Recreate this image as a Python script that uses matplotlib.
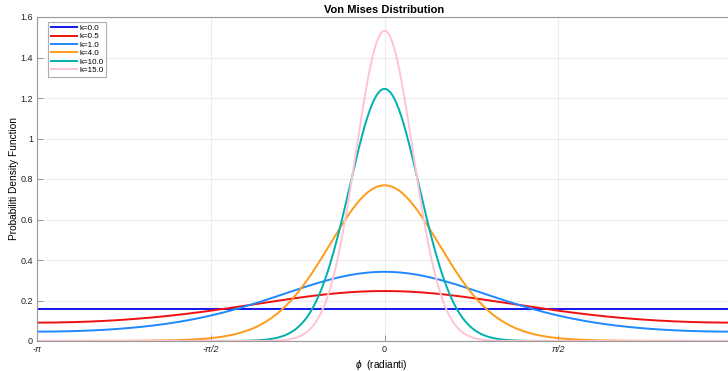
import numpy as np
from matplotlib import pyplot as plt

plt.rcParams['font.family'] = ['Liberation Sans', 'DejaVu Sans']
plt.rcParams['mathtext.fontset'] = 'custom'
plt.rcParams['mathtext.it'] = 'Liberation Sans:italic'

# concentration parameters from the legend
kappas = [0.0, 0.5, 1.0, 4.0, 10.0, 15.0]
labels = ['k=0.0', 'k=0.5', 'k=1.0', 'k=4.0', 'k=10.0', 'k=15.0']
colors = ['#1515f0', '#f01010', '#1e88ff', '#ff9a1a', '#00b0b0', '#ffc4d2']

xticks = [-np.pi, -np.pi / 2, 0, np.pi / 2]
xticklabels = ['-π', '-π/2', '0', 'π/2']
yticks = [0, 0.2, 0.4, 0.6, 0.8, 1, 1.2, 1.4, 1.6]
yticklabels = ['0', '0.2', '0.4', '0.6', '0.8', '1', '1.2', '1.4', '1.6']

phi = np.linspace(-np.pi, np.pi, 600)

fig = plt.figure(figsize=(7.28, 3.71), dpi=100)
ax = fig.add_axes([37 / 728, 30 / 371, 695 / 728, 324 / 371])

for k, lab, c in zip(kappas, labels, colors):
    pdf = np.exp(k * np.cos(phi)) / (2 * np.pi * np.i0(k))
    ax.plot(phi, pdf, color=c, lw=1.4, label=lab)

ax.set_xlim(-np.pi, np.pi)
ax.set_ylim(0, 1.6)
ax.set_xticks(xticks)
ax.set_xticklabels(xticklabels)
for t in ax.get_xticklabels():
    if 'π' in t.get_text():
        t.set_fontstyle('italic')
ax.set_yticks(yticks)
ax.set_yticklabels(yticklabels)
ax.grid(True, color='#ececec', lw=0.8)
ax.set_axisbelow(True)
ax.tick_params(direction='in', length=4, width=0.6, color='#888888',
               labelsize=6.5, labelcolor='#222222', pad=3)
for s in ax.spines.values():
    s.set_color('#999999')
    s.set_linewidth(0.8)

ax.set_title('Von Mises Distribution', fontsize=8, fontweight='bold', pad=3)
ax.set_xlabel(r'$\phi$  (radianti)', fontsize=7.3)
ax.xaxis.set_label_coords(0.5 - 3 / 695, -0.052)
ax.set_ylabel('Probabiliti Density Function', fontsize=7.3)
ax.yaxis.set_label_coords(-17.5 / 695, 0.5)

leg = ax.legend(loc='upper left', fontsize=5.8, handlelength=3.3, handletextpad=0.25,
                labelspacing=0.1, borderpad=0.3, fancybox=False,
                bbox_to_anchor=(0.016, 0.985), borderaxespad=0)
leg.get_frame().set_edgecolor('#999999')
leg.get_frame().set_linewidth(0.8)

plt.savefig('out.png', dpi=100)
